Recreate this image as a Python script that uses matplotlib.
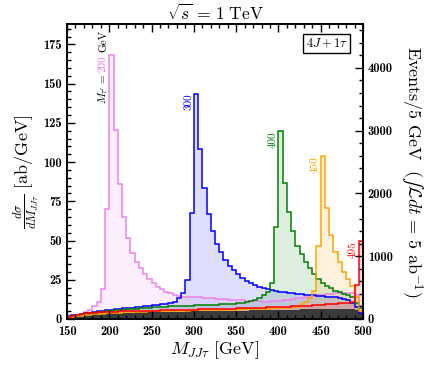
import numpy as np
import matplotlib
matplotlib.use("Agg")
import matplotlib.pyplot as plt
from matplotlib.ticker import MultipleLocator

plt.rcParams['mathtext.fontset'] = 'cm'
plt.rcParams['font.family'] = ['cmr10', 'DejaVu Serif']
plt.rcParams['axes.formatter.use_mathtext'] = True

# ---- data: dsigma/dM [ab/GeV] in 5 GeV bins from 150 to 500 GeV ----
bin_edges = np.arange(150, 505, 5)

m200 = [1.5, 2.0, 2.5, 3.0, 4.5, 6.0, 8.3, 11.0, 19.0, 70.0,
        168.0, 120.7, 86.0, 65.0, 51.5, 42.0, 36.6, 32.4, 28.7, 25.3,
        22.8, 20.6, 19.0, 17.2, 16.4, 15.3, 14.7, 14.2, 14.1, 14.0,
        13.9, 13.7, 13.5, 13.3, 13.1, 12.9, 12.7, 12.5, 12.3, 12.1,
        12.0, 11.8, 11.6, 11.4, 11.3, 11.2, 11.1, 11.1, 11.2, 11.4,
        11.7, 12.0, 12.3, 12.7, 13.1, 13.5, 13.9, 14.3, 14.7, 15.1,
        15.5, 15.9, 16.2, 16.5, 16.7, 16.8, 16.8, 16.5, 15.0, 8.0]

m300 = [2.0, 2.4, 2.8, 3.2, 3.6, 4.0, 4.4, 4.8, 5.2, 5.5,
        5.8, 6.1, 6.4, 6.7, 7.0, 7.3, 7.6, 7.9, 8.1, 8.4,
        8.7, 9.0, 9.3, 9.7, 10.4, 11.0, 13.2, 16.8, 25.0, 67.5,
        143.5, 108.4, 83.4, 67.0, 55.8, 47.9, 42.4, 37.7, 34.0, 31.3,
        28.5, 26.4, 24.5, 23.2, 21.7, 20.6, 19.6, 18.9, 18.3, 17.9,
        17.5, 17.2, 16.8, 16.5, 16.2, 15.9, 15.6, 15.3, 15.0, 14.8,
        14.5, 14.2, 14.0, 13.7, 13.4, 13.0, 12.0, 10.0, 7.9, 4.0]

m400 = [1.5, 2.0, 2.5, 3.0, 3.3, 3.7, 4.0, 4.3, 4.6, 4.9,
        5.2, 5.5, 5.7, 6.0, 6.2, 6.4, 6.6, 6.8, 7.0, 7.2,
        7.4, 7.6, 7.8, 7.9, 8.0, 8.2, 8.3, 8.4, 8.5, 8.6,
        8.7, 8.8, 8.9, 9.0, 9.1, 9.2, 9.3, 9.4, 9.6, 9.8,
        10.0, 10.3, 10.6, 11.2, 12.0, 13.3, 15.2, 17.5, 23.2, 58.9,
        119.6, 86.6, 68.5, 56.2, 46.8, 41.3, 36.6, 32.4, 28.7, 25.5,
        22.7, 21.0, 19.6, 18.0, 17.0, 16.0, 15.1, 14.2, 10.0, 7.2]

m450 = [1.0, 1.4, 1.8, 2.1, 2.4, 2.7, 3.0, 3.2, 3.4, 3.6,
        3.8, 4.0, 4.1, 4.2, 4.3, 4.4, 4.5, 4.6, 4.7, 4.8,
        4.9, 5.0, 5.0, 5.1, 5.2, 5.2, 5.3, 5.4, 5.4, 5.5,
        5.5, 5.6, 5.6, 5.7, 5.7, 5.8, 5.8, 5.9, 5.9, 6.0,
        6.0, 6.1, 6.1, 6.2, 6.3, 6.4, 6.5, 6.6, 6.7, 6.8,
        6.9, 7.0, 7.2, 7.5, 7.9, 9.4, 11.0, 13.2, 18.0, 46.8,
        103.7, 70.7, 53.6, 43.0, 36.6, 30.2, 25.5, 21.0, 14.0, 5.0]

m495 = [1.5, 2.2, 2.8, 3.3, 3.6, 3.9, 4.1, 4.3, 4.4, 4.5,
        4.6, 4.7, 4.8, 4.9, 5.0, 5.0, 5.1, 5.2, 5.2, 5.3,
        5.3, 5.4, 5.5, 5.5, 5.6, 5.7, 5.7, 5.8, 5.9, 5.9,
        6.0, 6.1, 6.1, 6.2, 6.2, 6.3, 6.4, 6.4, 6.5, 6.6,
        6.7, 6.8, 6.9, 7.0, 7.1, 7.2, 7.3, 7.4, 7.5, 7.6,
        7.7, 7.8, 7.9, 8.0, 8.2, 8.3, 8.5, 8.6, 8.8, 9.0,
        9.2, 9.4, 9.6, 9.8, 10.0, 10.2, 10.5, 11.0, 21.7, 49.8]

background = [1.0, 1.8, 2.3, 2.7, 3.0, 3.2, 3.3, 3.4, 3.5, 3.6,
              3.7, 3.8, 3.9, 4.0, 4.0, 4.1, 4.2, 4.2, 4.3, 4.3,
              4.4, 4.4, 4.5, 4.5, 4.6, 4.6, 4.7, 4.7, 4.8, 4.8,
              4.9, 4.9, 5.0, 5.0, 5.0, 5.1, 5.1, 5.2, 5.2, 5.3,
              5.3, 5.4, 5.4, 5.5, 5.5, 5.6, 5.6, 5.7, 5.7, 5.8,
              5.8, 5.9, 5.9, 6.0, 6.0, 6.1, 6.1, 6.2, 6.2, 6.3,
              6.3, 6.4, 6.4, 6.5, 6.5, 6.6, 6.6, 6.5, 6.0, 4.0]

masses = ["200", "300", "400", "450", "495"]
signal = [m200, m300, m400, m450, m495]
colors = ["violet", "blue", "green", "orange", "red"]
peak_bins = [200, 300, 400, 450, 495]

x_ticks = [150, 200, 250, 300, 350, 400, 450, 500]
y_ticks = [0, 25, 50, 75, 100, 125, 150, 175]
y2_ticks = [0, 1000, 2000, 3000, 4000]

# ---- figure ----
fig = plt.figure(figsize=(4.36, 3.67), dpi=100)
ax = fig.add_axes([0.1537, 0.1308, 0.6789, 0.8038])

for vals, c in zip(signal, colors):
    ax.stairs(vals, bin_edges, fill=True, color=c, alpha=0.13, linewidth=0)

ax.stairs(background, bin_edges, fill=True, color='#333333', alpha=0.95, linewidth=0)

for vals, c in zip(signal, colors):
    ax.stairs(vals, bin_edges, baseline=0, fill=False, color=c, linewidth=1.1)

# mass labels
for lab, vals, c, pb in zip(masses, signal, colors, peak_bins):
    peak = max(vals)
    if lab == "200":
        xl = pb - 7.3
        ax.text(xl, peak, lab, rotation=90, color=c, fontsize=8,
                ha='center', va='top', family='cmr10')
        ax.text(xl, peak - 11.0, r"$M_{\tau'}\,=$", rotation=90, color='k',
                fontsize=8, ha='center', va='top')
        ax.text(xl, peak + 2.0, "GeV", rotation=90, color='k', fontsize=8,
                ha='center', va='bottom', family='cmr10')
    else:
        ax.text(pb - 6.5, peak, lab, rotation=90, color=c, fontsize=8,
                ha='center', va='top', family='cmr10')

ax.set_xlim(150, 500)
ax.set_ylim(0, 188)

ax.set_xticks(x_ticks)
ax.set_xticklabels([str(t) for t in x_ticks], fontfamily='cmb10', fontsize=9)
ax.set_yticks(y_ticks)
ax.set_yticklabels([str(t) for t in y_ticks], fontfamily='cmb10', fontsize=9)
ax.xaxis.set_minor_locator(MultipleLocator(10))
ax.yaxis.set_minor_locator(MultipleLocator(5))
ax.tick_params(which='both', direction='in', top=True, right=False, width=1.0)
ax.tick_params(which='major', length=6)
ax.tick_params(which='minor', length=3)
ax.tick_params(axis='x', pad=5)

ax2 = ax.twinx()
ax2.set_ylim(0, 188 * 25)
ax2.set_yticks(y2_ticks)
ax2.set_yticklabels([str(t) for t in y2_ticks], fontfamily='cmb10', fontsize=9)
ax2.yaxis.set_minor_locator(MultipleLocator(200))
ax2.tick_params(which='both', direction='in', width=1.0)
ax2.tick_params(which='major', length=6)
ax2.tick_params(which='minor', length=3)

for a in (ax, ax2):
    for s in a.spines.values():
        s.set_linewidth(1.2)

ax.set_xlabel(r"$M_{JJ\tau}\ [\mathrm{GeV}]$", fontsize=13, labelpad=1)
ax.set_ylabel(r"$\frac{d\sigma}{dM_{JJ\tau}}\ [\mathrm{ab/GeV}]$", fontsize=13, labelpad=2)
ax2.set_ylabel("$\\mathrm{Events/5\\ GeV}\\ \\ (\u222b\\mathcal{L}dt\\,=\\,5\\ \\mathrm{ab}^{-1})$",
               fontsize=13, rotation=270, labelpad=4, va='bottom')
ax.set_title(r"$\sqrt{s}\,=\,1\ \mathrm{TeV}$", fontsize=12.5, pad=3)

ax.text(0.877, 0.934, r"$4J+1\tau$", transform=ax.transAxes, fontsize=9,
        ha='center', va='center',
        bbox=dict(boxstyle='square,pad=0.2', facecolor='white', edgecolor='black', linewidth=1.0))

fig.savefig("out.png", dpi=100)
